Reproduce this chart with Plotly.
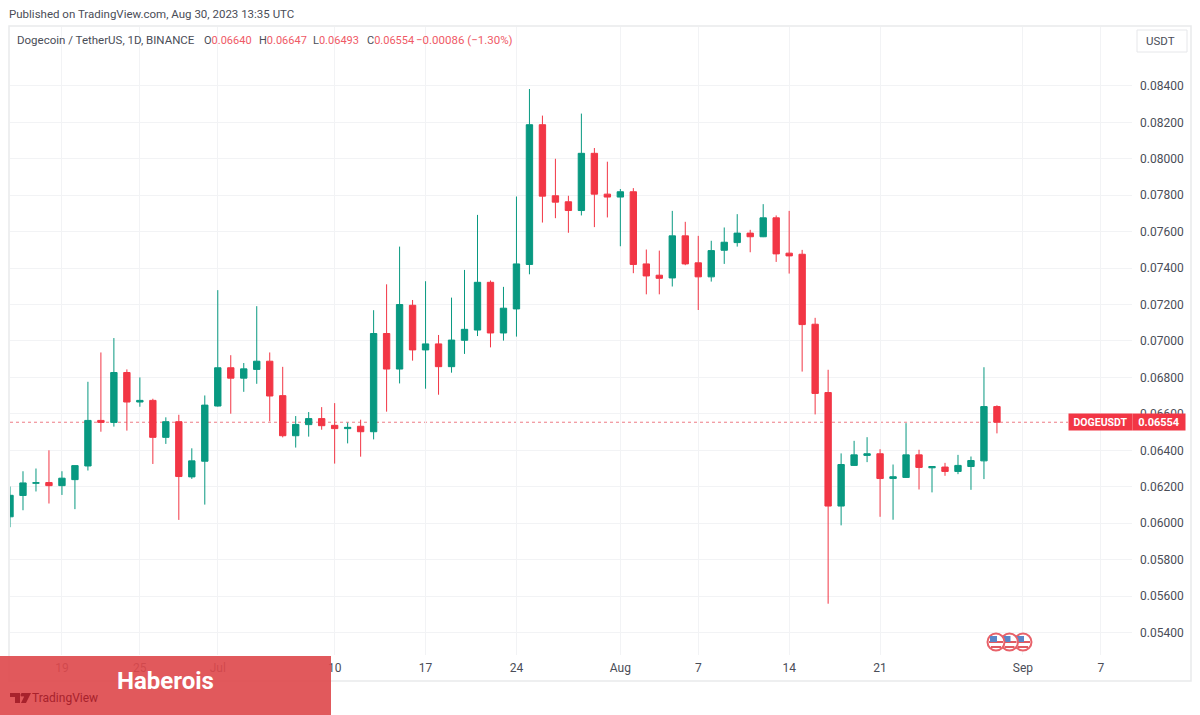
import plotly.graph_objects as go

# daily candles, Jun 15 - Aug 30 2023
dates = ['2023-06-%02d' % d for d in range(15, 31)] + \
        ['2023-07-%02d' % d for d in range(1, 32)] + \
        ['2023-08-%02d' % d for d in range(1, 31)]

opens = [0.06035, 0.06152, 0.06219, 0.06223, 0.06206, 0.06239, 0.06314, 0.06564, 0.06553, 0.06827,
         0.06665, 0.06674, 0.06471, 0.06557, 0.06254, 0.06340, 0.06643, 0.06853, 0.06796, 0.06844,
         0.06889, 0.06700, 0.06480, 0.06541, 0.06574, 0.06537, 0.06519, 0.06532, 0.06502, 0.07041,
         0.06846, 0.07196, 0.06951, 0.06984, 0.06859, 0.07004, 0.07060, 0.07322, 0.07044, 0.07176,
         0.07420, 0.08187, 0.07797, 0.07764, 0.07716, 0.08030, 0.07806, 0.07790, 0.07819, 0.07423,
         0.07361, 0.07346, 0.07577, 0.07429, 0.07352, 0.07498, 0.07540, 0.07592, 0.07572, 0.07676,
         0.07482, 0.07476, 0.07092, 0.06717, 0.06094, 0.06317, 0.06372, 0.06381, 0.06245, 0.06251,
         0.06375, 0.06304, 0.06308, 0.06284, 0.06311, 0.06342, 0.06640]
highs = [0.06201, 0.06285, 0.06300, 0.06400, 0.06285, 0.06316, 0.06776, 0.06937, 0.07016, 0.06844,
         0.06800, 0.06683, 0.06581, 0.06595, 0.06411, 0.06701, 0.07279, 0.06922, 0.06879, 0.07191,
         0.06937, 0.06858, 0.06588, 0.06610, 0.06637, 0.06659, 0.06552, 0.06568, 0.07169, 0.07311,
         0.07518, 0.07225, 0.07328, 0.07033, 0.07238, 0.07390, 0.07692, 0.07332, 0.07297, 0.07793,
         0.08383, 0.08237, 0.08000, 0.07797, 0.08248, 0.08059, 0.07984, 0.07834, 0.07839, 0.07502,
         0.07496, 0.07714, 0.07654, 0.07577, 0.07550, 0.07623, 0.07696, 0.07610, 0.07751, 0.07689,
         0.07714, 0.07500, 0.07127, 0.06842, 0.06383, 0.06452, 0.06472, 0.06406, 0.06322, 0.06549,
         0.06403, 0.06311, 0.06331, 0.06375, 0.06366, 0.06856, 0.06647]
lows = [0.05978, 0.06071, 0.06174, 0.06108, 0.06155, 0.06077, 0.06289, 0.06502, 0.06530, 0.06508,
        0.06639, 0.06325, 0.06435, 0.06018, 0.06243, 0.06102, 0.06640, 0.06601, 0.06721, 0.06765,
        0.06559, 0.06471, 0.06415, 0.06475, 0.06513, 0.06327, 0.06438, 0.06365, 0.06460, 0.06612,
        0.06767, 0.06892, 0.06738, 0.06705, 0.06826, 0.06929, 0.07027, 0.06965, 0.07002, 0.07024,
        0.07366, 0.07650, 0.07674, 0.07594, 0.07689, 0.07625, 0.07678, 0.07520, 0.07372, 0.07256,
        0.07256, 0.07299, 0.07416, 0.07170, 0.07326, 0.07423, 0.07518, 0.07487, 0.07570, 0.07434,
        0.07370, 0.06832, 0.06597, 0.05558, 0.05988, 0.06315, 0.06335, 0.06035, 0.06019, 0.06250,
        0.06185, 0.06169, 0.06260, 0.06269, 0.06183, 0.06242, 0.06493]
closes = [0.06153, 0.06221, 0.06222, 0.06206, 0.06247, 0.06316, 0.06564, 0.06553, 0.06827, 0.06665,
          0.06674, 0.06471, 0.06557, 0.06256, 0.06342, 0.06648, 0.06853, 0.06796, 0.06847, 0.06889,
          0.06698, 0.06480, 0.06542, 0.06574, 0.06535, 0.06519, 0.06526, 0.06502, 0.07041, 0.06846,
          0.07200, 0.06951, 0.06984, 0.06859, 0.07005, 0.07064, 0.07322, 0.07044, 0.07180, 0.07423,
          0.08187, 0.07795, 0.07762, 0.07716, 0.08030, 0.07806, 0.07790, 0.07819, 0.07420, 0.07357,
          0.07344, 0.07577, 0.07423, 0.07352, 0.07496, 0.07542, 0.07592, 0.07572, 0.07676, 0.07478,
          0.07467, 0.07090, 0.06712, 0.06094, 0.06322, 0.06375, 0.06381, 0.06245, 0.06255, 0.06375,
          0.06306, 0.06311, 0.06284, 0.06317, 0.06344, 0.06640, 0.06554]

price_ticks = [0.054, 0.056, 0.058, 0.060, 0.062, 0.064, 0.066, 0.068, 0.070, 0.072, 0.074, 0.076, 0.078, 0.080, 0.082, 0.084]
date_ticks = ['2023-06-19', '2023-06-25', '2023-07-01', '2023-07-10', '2023-07-17', '2023-07-24',
              '2023-08-01', '2023-08-07', '2023-08-14', '2023-08-21', '2023-09-01', '2023-09-07']
date_labels = ['19', '25', 'Jul', '10', '17', '24', 'Aug', '7', '14', '21', 'Sep', '7']

green, red = '#089981', '#F23645'
grid_colour, frame_colour, text_colour = '#F2F3F5', '#E9EAEC', '#4A4D57'
font_name = 'Roboto'
W, H = 1200, 715
left, right, top, bottom = 10, 1132, 27, 655


# pixel position in the page -> paper coordinates, for the furniture around the plot
def px(x):
    return (x - left) / (right - left)


def py(y):
    return (bottom - y) / (bottom - top)


def box(x0, y0, x1, y1, **kw):
    return dict(type='rect', xref='paper', yref='paper', x0=px(x0), x1=px(x1), y0=py(y1), y1=py(y0), **kw)


def circle(cx, cy, r, **kw):
    return dict(type='circle', xref='paper', yref='paper', x0=px(cx - r), x1=px(cx + r), y0=py(cy + r), y1=py(cy - r), **kw)


def path(points, colour):
    d = 'M' + 'L'.join('%.5f,%.5f' % (px(x), py(y)) for x, y in points) + 'Z'
    return dict(type='path', xref='paper', yref='paper', path=d, fillcolor=colour, line=dict(width=0))


def label(x, y, text, size=11, colour=text_colour, anchor='left', **kw):
    return dict(xref='paper', yref='paper', x=px(x), y=py(y), text=text, showarrow=False, xanchor=anchor,
                yanchor='middle', font=dict(family=font_name, size=size, color=colour), **kw)


fig = go.Figure(go.Candlestick(
    x=dates, open=opens, high=highs, low=lows, close=closes,
    increasing=dict(line=dict(color=green, width=1), fillcolor=green),
    decreasing=dict(line=dict(color=red, width=1), fillcolor=red),
    whiskerwidth=0, showlegend=False))

shapes = [
    box(9, 26, 1191, 681, line=dict(color=frame_colour, width=1.5), layer='below'),
    dict(type='line', xref='paper', yref='y', x0=0, x1=px(1068), y0=closes[-1], y1=closes[-1],
         line=dict(color='#EE7C86', width=1, dash='dot'), layer='below'),
    # currency button
    box(1137, 30, 1187, 52, line=dict(color='#E6E7EA', width=1), fillcolor='white'),
]

# the three event flags
for cx in [1023, 1009.5, 996]:
    shapes += [
        circle(cx, 642, 8.5, fillcolor='white', line=dict(color='#E8626A', width=2)),
        box(cx - 7, 641, cx + 7, 643, fillcolor='#E05A62', line=dict(width=0)),
        box(cx - 5, 646, cx + 5, 648, fillcolor='#E05A62', line=dict(width=0)),
        box(cx - 6, 636, cx + 1, 642, fillcolor='#5B86C8', line=dict(width=0)),
    ]

# red banner over the bottom left corner
logo_colour = '#A8222C'
shapes += [
    box(0, 656, 331, 715, fillcolor='rgba(222,72,76,0.91)', line=dict(width=0)),
    path([(10, 693), (20, 693), (20, 703), (15, 703), (15, 697), (10, 697)], logo_colour),
    path([(21, 693), (31, 693), (26, 703), (21, 703), (24, 697)], logo_colour),
    circle(22, 695, 1.5, fillcolor=logo_colour, line=dict(width=0)),
]

# legend row: the four prices come from the last candle
value_colour = '#EF5A66'
annotations = [
    label(7, 14, 'Published on TradingView.com, Aug 30, 2023 13:35 UTC', size=11.5),
    label(15, 40, 'Dogecoin / TetherUS, 1D, BINANCE', size=11.5),
]
for x, name, value in [(202, 'O', opens[-1]), (257, 'H', highs[-1]), (311, 'L', lows[-1]), (365, 'C', closes[-1])]:
    annotations.append(label(x, 40, '%s<span style="color:%s">%.5f</span>' % (name, value_colour, value), size=11))
annotations += [
    label(414, 40, '\u22120.00086 (\u22121.30%)', size=11.5, colour=value_colour),
    label(1160, 41, 'USDT', size=11.5, anchor='center'),
    label(115, 681, '<b>Haberois</b>', size=24, colour='white', anchor='left'),
    label(30, 698, 'TradingView', size=12, colour=logo_colour),
    dict(xref='paper', yref='y', x=px(1068), y=closes[-1], text='<b>DOGEUSDT</b>', showarrow=False, xanchor='left',
         yanchor='middle', bgcolor=red, width=62, height=15, borderpad=0.5,
         font=dict(family=font_name, size=10.5, color='white')),
    dict(xref='paper', yref='y', x=px(1132), y=closes[-1], text='<b>%.5f</b>' % closes[-1], showarrow=False,
         xanchor='left', yanchor='middle', bgcolor=red, width=51, height=15, borderpad=0.5,
         font=dict(family=font_name, size=11, color='white')),
]

fig.update_layout(
    width=W, height=H, autosize=False,
    margin=dict(l=left, r=W - right, t=top, b=H - bottom, pad=0),
    paper_bgcolor='white', plot_bgcolor='white',
    font=dict(family=font_name, size=12, color=text_colour),
    shapes=shapes, annotations=annotations,
    xaxis=dict(type='date', range=['2023-06-15', '2023-09-09 09:36'], rangeslider=dict(visible=False),
               tickvals=date_ticks, ticktext=date_labels, tickangle=0, ticks='', gridcolor=grid_colour,
               gridwidth=1, showline=False, zeroline=False, ticklabelstandoff=4,
               tickfont=dict(size=12, color=text_colour)),
    yaxis=dict(range=[0.052765, 0.087233], side='right', tickvals=price_ticks, tickformat='.5f', ticks='',
               ticklabelstandoff=7, gridcolor=grid_colour, gridwidth=1, showline=False, zeroline=False,
               tickfont=dict(size=12, color=text_colour)),
)

fig.write_html('out.html', config=dict(displayModeBar=False), post_script="document.body.style.margin='0';")
